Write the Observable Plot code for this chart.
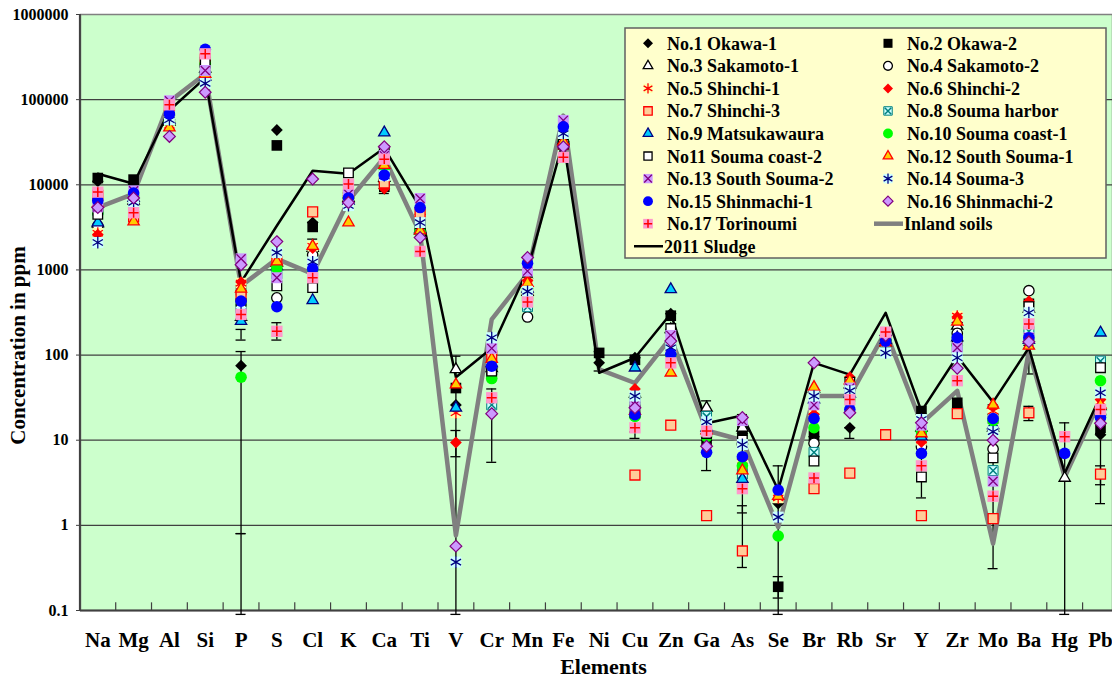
<!DOCTYPE html>
<html><head><meta charset="utf-8">
<script src="https://cdn.jsdelivr.net/npm/d3@7"></script>
<script src="https://cdn.jsdelivr.net/npm/@observablehq/plot@0.6"></script>
<style>
body{margin:0;background:#fff;}
#wrap{width:1112px;height:682px;overflow:hidden;}
</style></head><body><div id="wrap"></div>
<script>
const elements = ["Na","Mg","Al","Si","P","S","Cl","K","Ca","Ti","V","Cr","Mn","Fe","Ni","Cu","Zn","Ga","As","Se","Br","Rb","Sr","Y","Zr","Mo","Ba","Hg","Pb"];
const seriesNames = ["No.1 Okawa-1","No.2 Okawa-2","No.3 Sakamoto-1","No.4 Sakamoto-2","No.5 Shinchi-1","No.6 Shinchi-2","No.7 Shinchi-3","No.8 Souma harbor","No.9 Matsukawaura","No.10 Souma coast-1","No11 Souma coast-2","No.12 South Souma-1","No.13 South Souma-2","No.14 Souma-3","No.15 Shinmachi-1","No.16 Shinmachi-2","No.17 Torinoumi"];
const yTicks = [0.1, 1, 10, 100, 1000, 10000, 100000, 1000000];

const s01 = [11000,10000,65000,200000,75,44000,3600,8000,9000,3000,26,60,800,30000,81,93,306,10,12,1.8,11,14,150,20,240,20,140,null,11.6];
const s02 = [12000,11500,62000,210000,580,29000,3200,8000,9500,3000,41,60,800,32000,106,88,290,10,13,0.19,11.3,40,150,22,27.5,18,400,null,14];
const s03 = [3500,6500,55000,230000,280,1200,1800,7000,12000,2900,68,70,550,33000,null,35,200,24,14,null,40,45,140,14,220,14,350,3.6,25];
const s04 = [3300,6000,58000,250000,330,470,1500,7000,11000,2800,null,70,280,30000,null,25,190,12,9,null,9.2,40,150,8.4,180,7.9,570,null,20];
const s05 = [2700,6500,50000,200000,700,1100,1900,7000,15000,4000,21,90,700,34000,null,30,120,15,5,2.1,22,40,140,10,287,22,300,null,28];
const s06 = [2600,7000,55000,190000,720,1000,1800,7500,9000,4500,9.4,100,750,32000,null,40,110,12,6,null,20,55,160,9.5,280,25,430,null,30];
const s07 = [7500,4200,85000,300000,500,1250,4800,7500,10500,4700,null,97,500,30000,null,3.9,15,1.3,0.5,null,2.7,4.1,11.6,1.3,20.5,1.2,21,null,4];
const s08 = [5000,6500,60000,190000,350,900,1100,6500,14000,3500,null,26,370,35000,null,30,130,19,4,null,7.2,35,140,13,120,4.4,190,null,85];
const s09 = [3600,7000,58000,185000,250,1100,440,6500,41000,3000,24,80,600,35000,null,71,590,14,3.5,null,30,35,150,11,160,15,150,null,183];
const s10 = [4700,7500,55000,265000,55,1050,1000,7000,16000,2800,null,53,600,33000,null,19,100,11,5,0.75,14,30,150,12.7,130,17,150,null,50];
const s11 = [4500,6500,60000,275000,400,650,620,13800,25000,3500,null,65,500,30000,null,21,205,12,10,null,5.7,48,150,3.7,150,6.2,370,null,71];
const s12 = [6000,3700,47000,200000,600,1250,1900,3600,17000,2900,45,90,700,32000,null,22,62,13,4.4,2.2,42,50,140,12,246,26,128,null,26];
const s13 = [5500,8500,97000,220000,1350,810,1200,7800,22000,6900,null,120,970,57000,null,26,170,14,17,null,26,41,180,15,122,3.3,160,null,20];
const s14 = [2100,6200,58000,155000,320,1600,1240,5700,12800,3600,0.37,160,560,40000,null,33,122,16.4,8.9,1.25,33,38,106,17.5,93,12.6,314,null,36];
const s15 = [6500,8000,68000,390000,430,370,1030,7000,13000,5400,null,74,1200,48000,null,20,102,7.2,6.4,2.6,18,23,146,7,160,18,160,7,18.5];
const s16 = [5400,7000,37000,122000,1150,2150,11700,6200,28000,2400,0.57,20.5,1400,28000,null,24,146,8.5,18.5,null,81,21,170,16,70,10,143,null,15.8];
const s17 = [8200,4700,87000,345000,300,190,810,10200,20000,1650,null,31.5,420,21000,null,14,81,12.8,2.7,null,3.6,30,186,5,50,2.2,232,11,23];
const inlandSoils = [5400,7800,95000,200000,650,1350,900,6500,21000,2700,0.76,262,900,65000,68,47,160,13,10,0.95,33,33,190,15.8,38,0.61,111,3.7,30];
const sludge2011 = [13500,10300,75000,180000,720,3300,14600,13500,27000,5400,55,120,1000,33000,62,93,306,15.8,19.5,2.6,81,59,314,22,97,28,122,4.1,33];

const errElem = ["P","P","P","S","Cl","Ca","V","V","Cr","Ni","Cu","Ga","As","As","Se","Se","Rb","Y","Mo","Ba","Ba","Hg","Pb","Pb"];
const errLo   = [0.09,0.8,150,150,1700,7900,0.09,6.4,5.5,65,10.5,4.4,0.32,1.4,0.09,0.14,10.5,2.1,0.31,60,17,0.09,1.8,3];
const errHi   = [0.8,110,200,240,2300,9000,97,13,40,110,12.5,29,20,1.7,5,0.25,14,22,26,130,25,16,12,5];

const seriesValues = [s01,s02,s03,s04,s05,s06,s07,s08,s09,s10,s11,s12,s13,s14,s15,s16,s17];

// marker styles (layers drawn in order)
const styles = [
  [{symbol:d3.symbolDiamond2, r:5.3, fill:"#000000", stroke:"none"}],
  [{symbol:d3.symbolSquare, r:6.0, fill:"#000000", stroke:"none"}],
  [{symbol:d3.symbolTriangle, r:4.2, fill:"#ffffff", stroke:"#000000", sw:1.3}],
  [{symbol:d3.symbolCircle, r:5.2, fill:"#ffffff", stroke:"#000000", sw:1.3}],
  [{symbol:d3.symbolSquare, r:6.0, fill:"#ffffaa", stroke:"none"},{symbol:d3.symbolAsterisk, r:5.6, fill:"none", stroke:"#ff0000", sw:1.3}],
  [{symbol:d3.symbolDiamond2, r:5.3, fill:"#ff0000", stroke:"none"}],
  [{symbol:d3.symbolSquare, r:5.6, fill:"#ffcc99", stroke:"#ff0000", sw:1.3}],
  [{symbol:d3.symbolSquare, r:5.6, fill:"#ccffff", stroke:"#008080", sw:1},{symbol:d3.symbolTimes, r:3.6, fill:"none", stroke:"#008080", sw:1.5}],
  [{symbol:d3.symbolTriangle, r:4.2, fill:"#00ccff", stroke:"#000080", sw:1.3}],
  [{symbol:d3.symbolCircle, r:5.8, fill:"#00ff00", stroke:"none"}],
  [{symbol:d3.symbolSquare, r:5.4, fill:"#ffffff", stroke:"#000000", sw:1.3}],
  [{symbol:d3.symbolTriangle, r:4.2, fill:"#ffcc00", stroke:"#ff0000", sw:1.3}],
  [{symbol:d3.symbolSquare, r:6.2, fill:"#cc99ff", stroke:"none"},{symbol:d3.symbolTimes, r:4.2, fill:"none", stroke:"#800080", sw:1.3}],
  [{symbol:d3.symbolSquare, r:6.2, fill:"#ccffff", stroke:"none"},{symbol:d3.symbolAsterisk, r:5.6, fill:"none", stroke:"#000080", sw:1.3}],
  [{symbol:d3.symbolCircle, r:5.8, fill:"#0000ff", stroke:"none"}],
  [{symbol:d3.symbolDiamond2, r:5.3, fill:"#cc99ff", stroke:"#800080", sw:1.2}],
  [{symbol:d3.symbolSquare, r:6.4, fill:"#ff99cc", stroke:"none"},{symbol:d3.symbolPlus, r:3.3, fill:"none", stroke:"#ff0000", sw:1.5}]
];

const xRange = [97.3, 1100];
const step = (xRange[1] - xRange[0]) / (elements.length - 1);

const inlandRows = elements.map((el, i) => ({el, v: inlandSoils[i]}));
const sludgeRows = elements.map((el, i) => ({el, v: sludge2011[i]}));
const errRows = errElem.map((el, i) => ({el, lo: errLo[i], hi: errHi[i]}));

const dotMarks = [];
seriesValues.forEach((vals, si) => {
  const rows = elements.map((el, i) => ({el, v: vals[i]})).filter(d => d.v != null);
  styles[si].forEach(L => {
    dotMarks.push(Plot.dot(rows, {x: "el", y: "v", symbol: L.symbol, r: L.r, fill: L.fill, stroke: L.stroke, strokeWidth: L.sw || 1}));
  });
});

const chart = Plot.plot({
  width: 1112, height: 682,
  marginLeft: 80, marginRight: 0, marginTop: 14, marginBottom: 72,
  style: {fontFamily: "'Liberation Serif', 'Times New Roman', serif", fontWeight: "bold", background: "#ffffff", color: "#000"},
  x: {type: "point", domain: elements, range: xRange, padding: 0, round: false},
  y: {type: "log", domain: [0.1, 1000000]},
  marks: [
    Plot.frame({fill: "#ccffcc", stroke: "#808080", strokeWidth: 1.5}),
    Plot.ruleY(yTicks.slice(1, -1), {stroke: "#404040", strokeWidth: 1.2}),
    Plot.ruleY([0.1], {stroke: "#404040", strokeWidth: 2}),
    Plot.ruleX([elements[0]], {dx: -step / 2, stroke: "#404040", strokeWidth: 2}),
    Plot.ruleX(elements.slice(1), {x: d => d, y1: 0.1, y2: 0.123, dx: -step / 2, stroke: "#404040", strokeWidth: 1.2}),
    Plot.axisY({ticks: yTicks, tickFormat: d => String(d), tickSize: 4, tickPadding: 8, fontSize: 16, label: null, stroke: "#404040"}),
    Plot.axisX({tickSize: 0, tickPadding: 22, fontSize: 21, label: null}),
    Plot.ruleX(errRows, {x: "el", y1: "lo", y2: "hi", stroke: "#000", strokeWidth: 1.3}),
    Plot.ruleY(errRows, {y: "lo", x1: "el", x2: "el", insetLeft: -5, insetRight: -5, stroke: "#000", strokeWidth: 1.3}),
    Plot.ruleY(errRows, {y: "hi", x1: "el", x2: "el", insetLeft: -5, insetRight: -5, stroke: "#000", strokeWidth: 1.3}),
    Plot.line(inlandRows, {x: "el", y: "v", stroke: "#808080", strokeWidth: 4.5}),
    Plot.line(sludgeRows, {x: "el", y: "v", stroke: "#000000", strokeWidth: 2.5}),
    ...dotMarks,
    Plot.text(["Elements"], {frameAnchor: "bottom", textAnchor: "middle", lineAnchor: "middle", dy: 56, dx: 7, text: d => d, fontSize: 22}),
    Plot.text(["Concentration in ppm"], {frameAnchor: "left", textAnchor: "middle", lineAnchor: "middle", rotate: -90, dx: -62, dy: 33, text: d => d, fontSize: 21})
  ]
});

// Legend
const svg = d3.select(chart);
const lg = svg.append("g").attr("font-family", "'Liberation Serif', 'Times New Roman', serif").attr("font-weight", "bold").attr("font-size", 18).attr("text-anchor", "start");
lg.append("rect").attr("x", 625).attr("y", 28).attr("width", 481).attr("height", 230)
  .attr("fill", "#ffffcc").attr("stroke", "#606060").attr("stroke-width", 1.5);
const colSym = [648, 888], colText = [667, 907], row0 = 43.3, rowH = 22.55;
const legendItems = seriesNames.map((name, i) => ({name, kind: "sym", si: i}))
  .concat([{name: "Inland soils", kind: "line", color: "#808080", w: 4.5}, {name: "2011 Sludge", kind: "line", color: "#000", w: 2.5}]);
legendItems.forEach((it, i) => {
  const col = i % 2, row = Math.floor(i / 2);
  const cy = row0 + row * rowH;
  if (it.kind === "sym") {
    styles[it.si].forEach(L => {
      const r = L.r * 0.85;
      lg.append("path").attr("transform", `translate(${colSym[col]},${cy})`)
        .attr("d", d3.symbol(L.symbol, r * r * Math.PI)())
        .attr("fill", L.fill).attr("stroke", L.stroke).attr("stroke-width", L.sw || 1);
    });
  } else {
    lg.append("line").attr("x1", colSym[col] - 14).attr("x2", colSym[col] + 15).attr("y1", cy).attr("y2", cy)
      .attr("stroke", it.color).attr("stroke-width", it.w);
  }
  lg.append("text").attr("x", colText[col] - (it.kind === "line" ? 3 : 0)).attr("y", cy + 6.5).attr("fill", "#000").attr("text-anchor", "start").text(it.name);
});

document.getElementById("wrap").appendChild(chart);
</script>
</body></html>
